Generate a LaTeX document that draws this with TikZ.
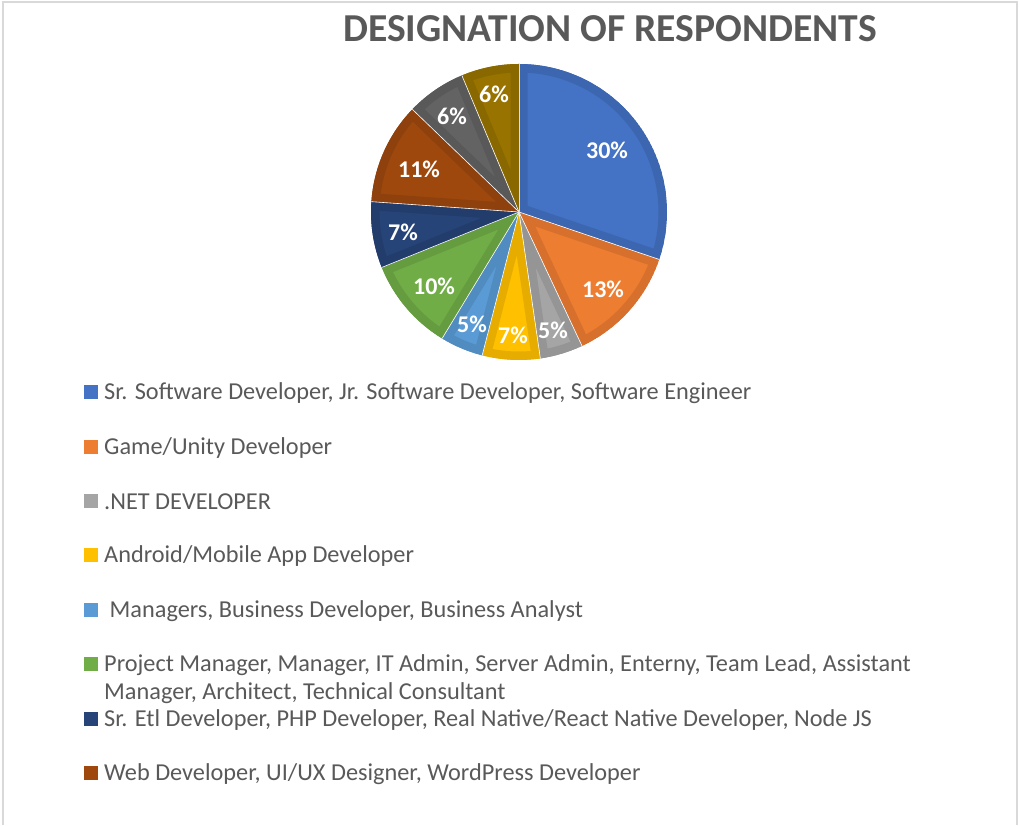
\documentclass[tikz,border=0pt]{standalone}
\usepackage{fontspec}
\setmainfont{Carlito}
\usepackage{tikz}
\usetikzlibrary{positioning}
\definecolor{txtgrey}{HTML}{595959}
\definecolor{framegrey}{HTML}{D9D9D9}
\definecolor{cblue}{HTML}{4472C4}   \definecolor{dblue}{HTML}{3D66B0}
\definecolor{corange}{HTML}{ED7D31} \definecolor{dorange}{HTML}{D6702C}
\definecolor{cgrey}{HTML}{A5A5A5}   \definecolor{dgrey}{HTML}{959595}
\definecolor{cgold}{HTML}{FFC000}   \definecolor{dgold}{HTML}{E6AD00}
\definecolor{clblue}{HTML}{5B9BD5}  \definecolor{dlblue}{HTML}{518CC0}
\definecolor{cgreen}{HTML}{70AD47}  \definecolor{dgreen}{HTML}{659C40}
\definecolor{cnavy}{HTML}{264478}   \definecolor{dnavy}{HTML}{223D6C}
\definecolor{cbrown}{HTML}{9E480E}  \definecolor{dbrown}{HTML}{8E410D}
\definecolor{cdgrey}{HTML}{636363}  \definecolor{ddgrey}{HTML}{595959}
\definecolor{colive}{HTML}{997300}  \definecolor{dolive}{HTML}{8A6800}

\begin{document}
\begin{tikzpicture}[x=1pt,y=1pt]
 \tikzstyle{pct}=[text=white,font=\fontsize{24}{26}\selectfont\bfseries]
 \tikzstyle{key}=[minimum size=14pt,inner sep=0pt]
 \tikzstyle{entry}=[text=txtgrey,font=\fontsize{24.3}{28}\selectfont,inner sep=0pt,align=left]

   \useasboundingbox (0,0) rectangle (1019,825);
   \draw[framegrey,line width=1.5pt] (3,0) -- (3,823) -- (1017,823) -- (1017,0);

   \node[text=txtgrey,font=\fontsize{39.6}{42}\selectfont\bfseries] (title) at (610,796) {DESIGNATION OF RESPONDENTS};

   \coordinate (c) at (519,613);
   % slices, clockwise from the top
   \foreach \a/\b/\lt/\dk/\lx/\ly/\txt [count=\i] in {
      90/-18.7/cblue/dblue/607/675/30\%,
      -18.7/-64.8/corange/dorange/603/536/13\%,
      -64.8/-81.7/cgrey/dgrey/553/495/5\%,
      -81.7/-104.4/cgold/dgold/513/490/7\%,
      -104.4/-121.3/clblue/dlblue/472/501/5\%,
      -121.3/-158/cgreen/dgreen/434/539/10\%,
      -158/-184/cnavy/dnavy/403/593/7\%,
      -184/-223.9/cbrown/dbrown/419/656/11\%,
      -223.9/-247.3/cdgrey/ddgrey/452/709/6\%,
      -247.3/-270/colive/dolive/494/731/6\%}{
     \begin{scope}
       \clip (c) -- ++(\a:148) arc[start angle=\a,end angle=\b,radius=148] -- cycle;
       \fill[\lt] (c) -- ++(\a:148) arc[start angle=\a,end angle=\b,radius=148] -- cycle;
       \draw[\dk,line width=17pt] (c) -- ++(\a:148) arc[start angle=\a,end angle=\b,radius=148] -- cycle;
     \end{scope}
     \draw[white,line width=0.6pt] (c) -- ++(\a:148);
     \node[pct] (p\i) at (\lx,\ly) {\txt};
   }

   % legend
   \node[key,fill=cblue]   (k1) at (91,433) {};
   \node[entry,anchor=west] (e1) at (104,432) {Sr. Software Developer, Jr. Software Developer, Software Engineer};
   \node[key,fill=corange] (k2) at (91,378) {};
   \node[entry,anchor=west] (e2) at (104,377) {Game/Unity Developer};
   \node[key,fill=cgrey]   (k3) at (91,324) {};
   \node[entry,anchor=west] (e3) at (104,323) {.NET DEVELOPER};
   \node[key,fill=cgold]   (k4) at (91,270) {};
   \node[entry,anchor=west] (e4) at (104,269) {Android/Mobile App Developer};
   \node[key,fill=clblue]  (k5) at (91,215) {};
   \node[entry,anchor=west] (e5) at (104,214) {\ Managers, Business Developer, Business Analyst};
   \node[key,fill=cgreen]  (k6) at (91,161) {};
   \node[entry,anchor=west] (e6) at (104,146) {Project Manager, Manager, IT Admin, Server Admin, Enterny, Team Lead, Assistant\\Manager, Architect, Technical Consultant};
   \node[key,fill=cnavy]   (k7) at (91,106) {};
   \node[entry,anchor=west] (e7) at (104,105) {Sr. Etl Developer, PHP Developer, Real Native/React Native Developer, Node JS};
   \node[key,fill=cbrown]  (k8) at (91,52) {};
   \node[entry,anchor=west] (e8) at (104,51) {Web Developer, UI/UX Designer, WordPress Developer};

\end{tikzpicture}
\end{document}
